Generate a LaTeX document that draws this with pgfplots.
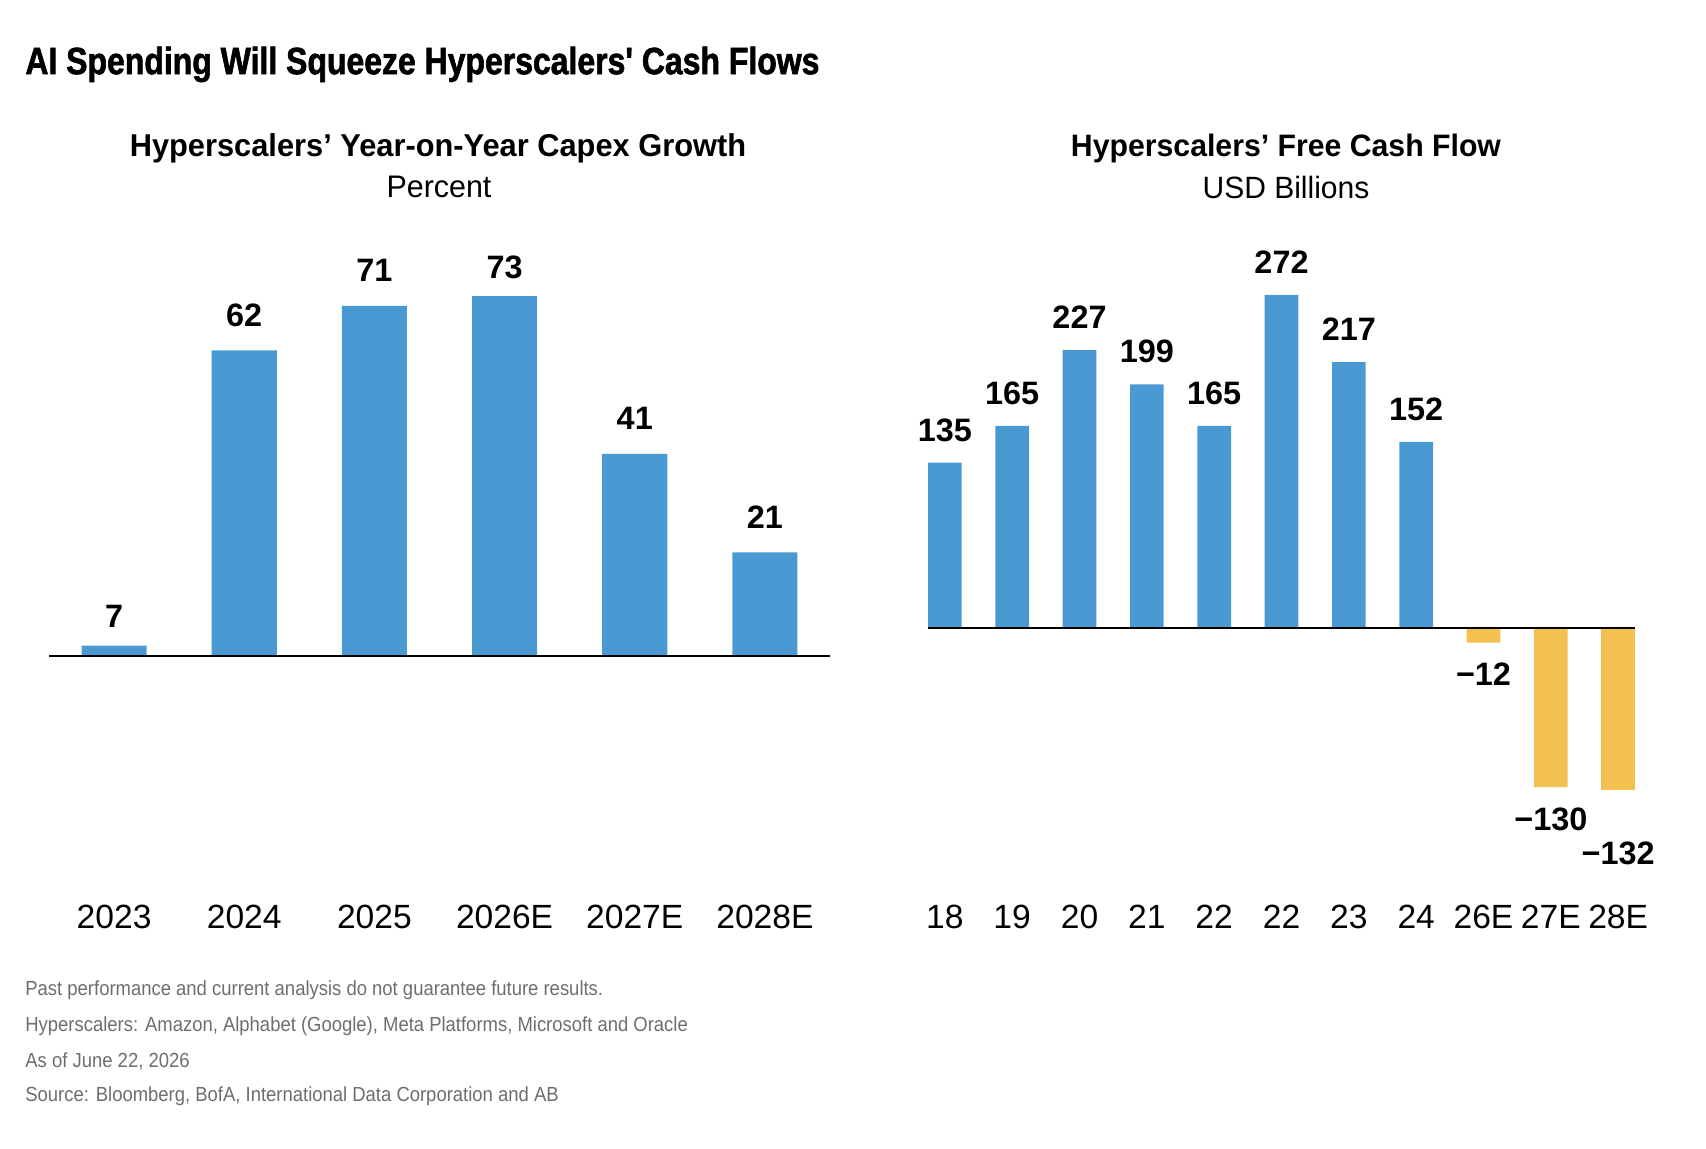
\documentclass[border=0pt]{standalone}
\usepackage{fontspec}
\setmainfont{Liberation Sans}
\newfontfamily\titlefont[FakeStretch=0.841, FakeBold=1.6]{Liberation Sans}
\newfontfamily\subfont[FakeStretch=0.975]{Liberation Sans}
\newfontfamily\notefont[FakeStretch=0.905]{Liberation Sans}
\usepackage{pgfplots}
\usepackage{pgfplotstable}
\pgfplotsset{compat=1.18}
\definecolor{barblue}{HTML}{4B99D2}
\definecolor{baryellow}{HTML}{F3C150}
\definecolor{notegray}{HTML}{6E6E6E}

% capex growth, labels close to the bar top
\pgfplotstableread{
x y lab
0 2.1 7
3 73 73
}\capexA

% capex growth, other bars
\pgfplotstableread{
x y lab
1 62 62
2 71 71
4 41 41
5 21 21
}\capexB

\pgfplotstableread{
x y lab
0 135 135
1 165 165
2 227 227
3 199 199
4 165 165
5 272 272
6 217 217
7 152 152
}\fcfpos

\pgfplotstableread{
x y lab
8 -12 −12
9 -130 −130
}\fcfneg

\pgfplotstableread{
x y lab
10 -132 −132
}\fcfneglow

\pgfplotsset{
  panel/.style={
    scale only axis, anchor=south west, clip=false,
    axis line style={draw=none},
    tick style={draw=none}, major tick length=0pt,
    ytick=\empty,
    xticklabel style={font=\fontsize{16.8}{18}\selectfont, anchor=center, yshift=-13.5pt},
  },
  valbar/.style={ybar, bar width=0.5, bar shift=0pt, draw=none,
    point meta=explicit symbolic,
    nodes near coords,
    every node near coord/.append style={font=\bfseries\fontsize{16.2}{18}\selectfont, anchor=center, text=black}},
}

\begin{document}
\begin{tikzpicture}
\path[use as bounding box] (0,0) rectangle (853pt,574pt);

\node[anchor=west, inner sep=0pt] at (12.5pt,541.8pt) {\titlefont\bfseries\fontsize{19}{22}\selectfont AI Spending Will Squeeze Hyperscalers' Cash Flows};

\node[inner sep=0pt] at (219pt,500pt) {\subfont\bfseries\fontsize{15.8}{18}\selectfont Hyperscalers’ Year-on-Year Capex Growth};
\node[inner sep=0pt] at (219.5pt,480.5pt) {\subfont\fontsize{15.6}{18}\selectfont Percent};
\node[inner sep=0pt] at (643pt,500pt) {\subfont\bfseries\fontsize{15.5}{18}\selectfont Hyperscalers’ Free Cash Flow};
\node[inner sep=0pt] at (643pt,480.5pt) {\subfont\fontsize{15.4}{18}\selectfont USD Billions};

\begin{axis}[panel, at={(24.5pt,129pt)}, width=390.5pt, height=330pt,
  xmin=-0.5, xmax=5.5, ymin=-47.5, ymax=86.4,
  xtick={0,1,2,3,4,5},
  xticklabels={2023,2024,2025,2026E,2027E,2028E}]
\addplot[valbar, fill=barblue, every node near coord/.append style={yshift=14.5pt}] table[x=x, y=y, meta=lab] {\capexA};
\addplot[valbar, fill=barblue, every node near coord/.append style={yshift=17.6pt}] table[x=x, y=y, meta=lab] {\capexB};
\draw[line width=1.1pt, black] (axis cs:-0.5,0) -- (axis cs:5.5,0);
\end{axis}

\begin{axis}[panel, at={(464pt,129pt)}, width=353.5pt, height=330pt,
  xmin=-0.25, xmax=10.25, ymin=-214, ymax=325,
  xtick={0,1,2,3,4,5,6,7,8,9,10},
  xticklabels={18,19,20,21,22,22,23,24,26E,27E,28E}]
\addplot[valbar, fill=barblue, every node near coord/.append style={yshift=16.3pt}] table[x=x, y=y, meta=lab] {\fcfpos};
\addplot[valbar, fill=baryellow, every node near coord/.append style={yshift=-16pt}] table[x=x, y=y, meta=lab] {\fcfneg};
\addplot[valbar, fill=baryellow, every node near coord/.append style={yshift=-32pt}] table[x=x, y=y, meta=lab] {\fcfneglow};
\draw[line width=1.1pt, black] (axis cs:-0.25,0) -- (axis cs:10.25,0);
\end{axis}

\begin{scope}[every node/.style={anchor=west, inner sep=0pt, text=notegray, font=\notefont\fontsize{10.2}{12}\selectfont}]
\node at (12.5pt,78.7pt) {Past performance and current analysis do not guarantee future results.};
\node at (12.5pt,60.7pt) {Hyperscalers: Amazon, Alphabet (Google), Meta Platforms, Microsoft and Oracle};
\node at (12.5pt,43.3pt) {As of June 22, 2026};
\node at (12.5pt,26pt) {Source: Bloomberg, BofA, International Data Corporation and AB};
\end{scope}
\end{tikzpicture}
\end{document}
